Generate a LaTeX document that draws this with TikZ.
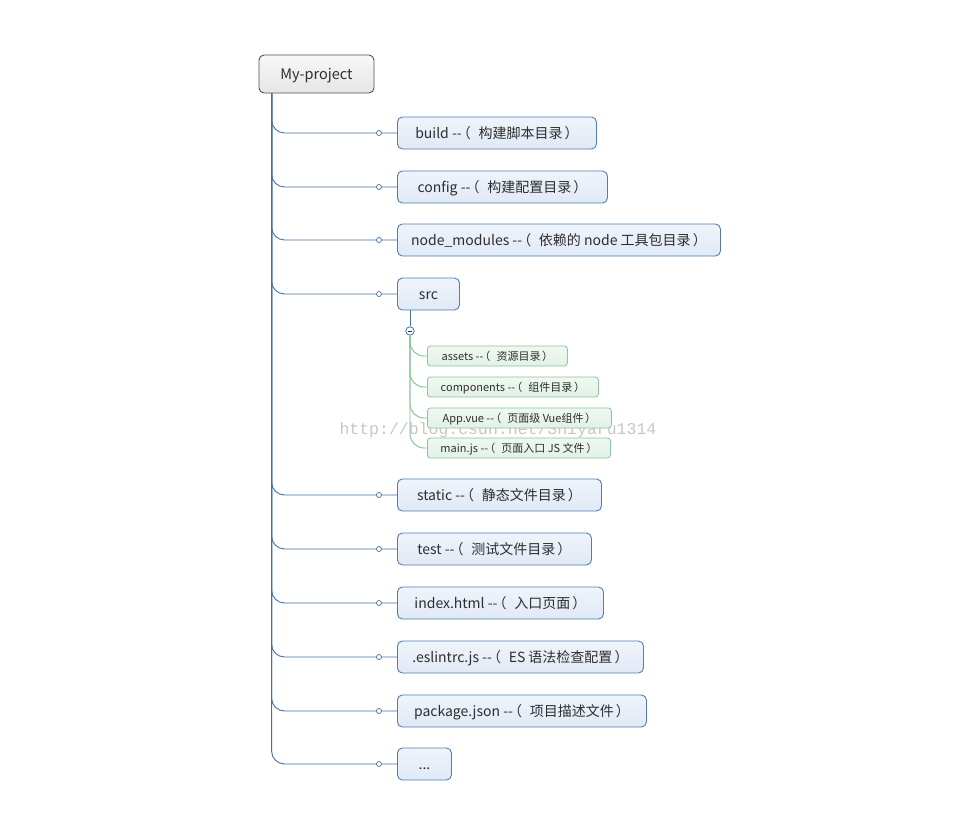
\documentclass[tikz,border=0pt]{standalone}
\usepackage{fontspec}
\setmainfont{Noto Sans CJK SC}
\newfontfamily\wmfont{Liberation Mono}
\newcommand\LP{\hspace{-0.35em}（\hspace{0.55em}}
\newcommand\RP{\hspace{0.15em}）\hspace{-0.5em}}
\newcommand\DD{\mbox{-}\mbox{-}}
\definecolor{bluebd}{HTML}{4F7DB6}
\definecolor{bluefill}{HTML}{EFF4FB}
\definecolor{bluefill2}{HTML}{E0E9F5}
\definecolor{blueln}{HTML}{4470A6}
\definecolor{greenbd}{HTML}{8CC49C}
\definecolor{greenfill}{HTML}{EFF8F1}
\definecolor{greenfill2}{HTML}{E2F1E6}
\definecolor{greenln}{HTML}{7DBE8E}
\definecolor{rootbd}{HTML}{505050}
\definecolor{txt}{HTML}{2E2E2E}
\begin{document}
\begin{tikzpicture}[x=1pt,y=-1pt,
  rootbox/.style={draw=rootbd, line width=0.9pt, rounded corners=5pt, top color=white!97!black, bottom color=white!90!black, minimum width=115pt, minimum height=38pt, inner sep=0pt, text=txt, text height=11pt, text depth=1pt, font=\fontsize{14.5pt}{16pt}\selectfont},
  bluebox/.style={draw=bluebd, line width=0.9pt, rounded corners=5pt, top color=bluefill, bottom color=bluefill2, minimum height=32pt, inner sep=0pt, anchor=west, text=txt, text height=12pt, text depth=1.4pt, font=\fontsize{14pt}{16pt}\selectfont},
  greenbox/.style={draw=greenbd, line width=0.8pt, rounded corners=3pt, top color=greenfill, bottom color=greenfill2, minimum height=20pt, inner sep=0pt, anchor=west, text=txt, text height=10.5pt, text depth=0.8pt, font=\fontsize{11pt}{12pt}\selectfont},
  conn/.style={draw=blueln, line width=0.9pt, rounded corners=13pt},
  gconn/.style={draw=greenln, line width=0.9pt, rounded corners=14pt},
  knob/.style={circle, draw=blueln, fill=white, line width=0.7pt, inner sep=0pt, minimum size=5pt},
]
\useasboundingbox (0,0) rectangle (979,814);
\fill[white] (0,0) rectangle (979,814);

% watermark
\node[text=black!22, font=\wmfont\fontsize{16.5pt}{18pt}\selectfont, anchor=west] (wm) at (336,430) {http://blog.csdn.net/Shiyaru1314};

\node[rootbox] (root) at (316.5,74) {My-project};
\coordinate (t) at ([xshift=13pt]root.south west);

\node[bluebox, minimum width=199pt] (build) at (397,133) {build \DD\LP 构建脚本目录\RP};
\node[bluebox, minimum width=210pt] (config) at (397,187) {config \DD\LP 构建配置目录\RP};
\node[bluebox, minimum width=323pt] (nm) at (397,240) {node\_modules \DD\LP 依赖的 node 工具包目录\RP};
\node[bluebox, minimum width=62pt] (src) at (397,294) {src};
\node[bluebox, minimum width=204pt] (static) at (397,495) {static \DD\LP 静态文件目录\RP};
\node[bluebox, minimum width=194pt] (test) at (397,549) {test \DD\LP 测试文件目录\RP};
\node[bluebox, minimum width=206pt] (index) at (397,603) {index.html \DD\LP 入口页面\RP};
\node[bluebox, minimum width=246pt] (eslint) at (397,657) {.eslintrc.js \DD\LP ES 语法检查配置\RP};
\node[bluebox, minimum width=249pt] (pkg) at (397,711) {package.json \DD\LP 项目描述文件\RP};
\node[bluebox, minimum width=54pt] (more) at (397,764) {...};

\node[greenbox, minimum width=140pt] (assets) at (427,356) {assets \DD\LP 资源目录\RP};
\node[greenbox, minimum width=171pt] (comp) at (427,387) {components \DD\LP 组件目录\RP};
\node[greenbox, minimum width=184pt] (app) at (427,418) {App.vue \DD\LP 页面级 Vue组件\RP};
\node[greenbox, minimum width=183pt] (mainjs) at (427,448) {main.js \DD\LP 页面入口 JS 文件\RP};

% trunk connectors
\foreach \n in {build,config,nm,src,static,test,index,eslint,pkg,more}{
  \draw[conn] (t) |- (\n.west);
  \node[knob] at ([xshift=-18pt]\n.west) {};
}

% src children
\coordinate (s) at ([xshift=13pt]src.south west);
\node[circle, draw=blueln, fill=white, line width=0.8pt, inner sep=0pt, minimum size=8.5pt] (minus) at (410,331) {};
\foreach \n in {assets,comp,app,mainjs}{
  \draw[gconn] (minus.south) |- (\n.west);
}
\draw[draw=blueln, line width=0.9pt] (s) -- (minus.north);
\draw[black!80, line width=1pt] ([xshift=-2.2pt]minus.center) -- ([xshift=2.2pt]minus.center);
\end{tikzpicture}
\end{document}
